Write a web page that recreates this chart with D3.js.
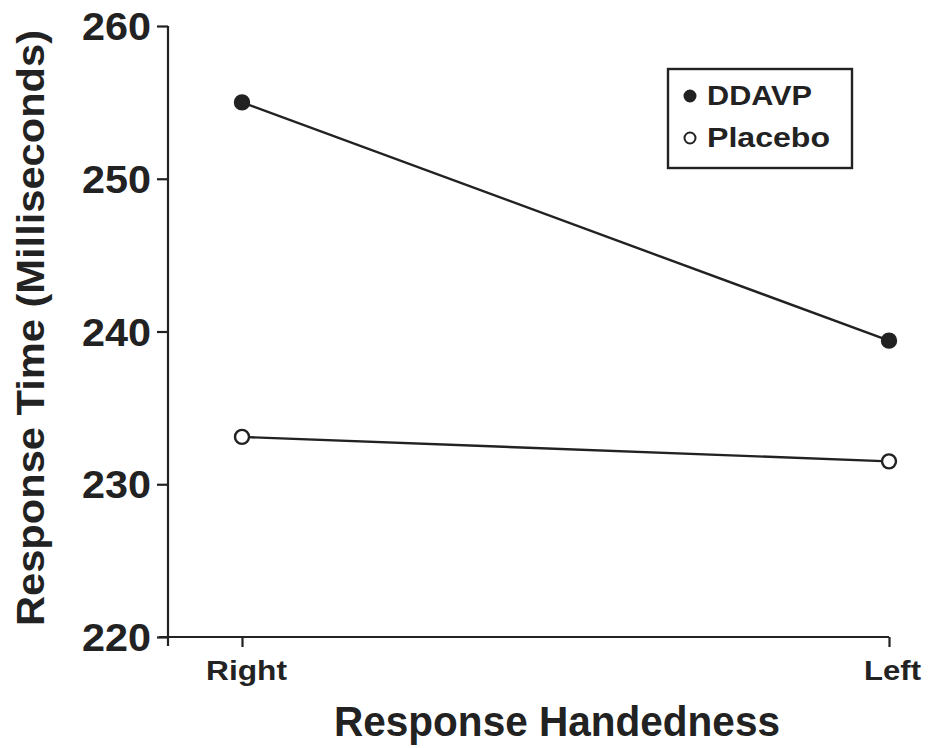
<!DOCTYPE html>
<head>
    <meta charset="utf-8">
    <style>
        body { margin: 0; background: #fff; }
        svg text { font-family: "Liberation Sans", Arial, sans-serif; font-weight: bold; fill: #222; }
    </style>
</head>
<body>
    <div id="chart"></div>
    <script src="https://d3js.org/d3.v7.min.js"></script>
    <script>
        // chart values
        var categories = ["Right", "Left"];
        var ddavp = [255.0, 239.4];
        var placebo = [233.1, 231.5];
        var yTicks = [220, 230, 240, 250, 260];

        var width = 928, height = 748;
        var ink = "#222";

        var svg = d3.select("#chart").append("svg")
            .attr("width", width)
            .attr("height", height);

        var x = d3.scalePoint()
            .domain(categories)
            .range([242, 889]);

        var y = d3.scaleLinear()
            .domain([220, 260])
            .range([637, 26]);

        // y axis
        var yAxis = svg.append("g")
            .attr("transform", "translate(168,0)")
            .call(d3.axisLeft(y).tickValues(yTicks).tickSize(11).tickPadding(6));
        yAxis.select(".domain").attr("stroke", ink).attr("stroke-width", 2.2)
            .attr("d", "M0," + y(260) + "V" + (y(220) + 9));
        yAxis.selectAll(".tick line").attr("stroke", ink).attr("stroke-width", 2.2);
        yAxis.selectAll(".tick text")
            .style("font-size", "38px")
            .attr("fill", ink)
            .attr("dy", "0.36em")
            .attr("textLength", 69)
            .attr("lengthAdjust", "spacingAndGlyphs");

        // x axis
        var xAxis = svg.append("g")
            .attr("transform", "translate(0," + y(220) + ")")
            .call(d3.axisBottom(x).tickSize(10).tickPadding(10));
        xAxis.select(".domain").attr("stroke", ink).attr("stroke-width", 2.2)
            .attr("d", "M159,0H" + x("Left"));
        xAxis.selectAll(".tick line").attr("stroke", ink).attr("stroke-width", 2.2);
        xAxis.selectAll(".tick text")
            .style("font-size", "27px")
            .attr("fill", ink)
            .attr("dy", "0.85em")
            .attr("dx", function(d) { return d === "Left" ? 3 : 4; })
            .attr("textLength", function(d) { return d === "Left" ? 57 : 81; })
            .attr("lengthAdjust", "spacingAndGlyphs");

        // axis titles
        svg.append("text")
            .attr("x", 557).attr("y", 736)
            .attr("text-anchor", "middle")
            .attr("textLength", 446)
            .attr("lengthAdjust", "spacingAndGlyphs")
            .style("font-size", "43px")
            .text("Response Handedness");

        svg.append("text")
            .attr("transform", "translate(44,328) rotate(-90)")
            .attr("text-anchor", "middle")
            .attr("textLength", 596)
            .attr("lengthAdjust", "spacingAndGlyphs")
            .style("font-size", "39px")
            .text("Response Time (Milliseconds)");

        // lines
        var line = d3.line()
            .x(function(d, i) { return x(categories[i]); })
            .y(function(d) { return y(d); });

        [[ddavp, ink], [placebo, "#fff"]].forEach(function(s) {
            svg.append("path")
                .datum(s[0])
                .attr("d", line)
                .attr("fill", "none")
                .attr("stroke", ink)
                .attr("stroke-width", 2.4);
            svg.selectAll(null)
                .data(s[0])
                .enter().append("circle")
                .attr("cx", function(d, i) { return x(categories[i]); })
                .attr("cy", function(d) { return y(d); })
                .attr("r", 7)
                .attr("fill", s[1])
                .attr("stroke", ink)
                .attr("stroke-width", 2.4);
        });

        // legend
        var legend = svg.append("g");
        legend.append("rect")
            .attr("x", 668).attr("y", 69)
            .attr("width", 184).attr("height", 99)
            .attr("fill", "none")
            .attr("stroke", ink)
            .attr("stroke-width", 2.4);
        var items = [["DDAVP", ink, 105], ["Placebo", "#fff", 123]];
        items.forEach(function(it, i) {
            var cy = 96 + i * 42;
            legend.append("circle")
                .attr("cx", 690).attr("cy", cy)
                .attr("r", 5.5)
                .attr("fill", it[1])
                .attr("stroke", ink)
                .attr("stroke-width", 2);
            legend.append("text")
                .attr("x", 707).attr("y", cy + 9)
                .attr("textLength", it[2])
                .attr("lengthAdjust", "spacingAndGlyphs")
                .style("font-size", "27px")
                .text(it[0]);
        });
    </script>
</body>
